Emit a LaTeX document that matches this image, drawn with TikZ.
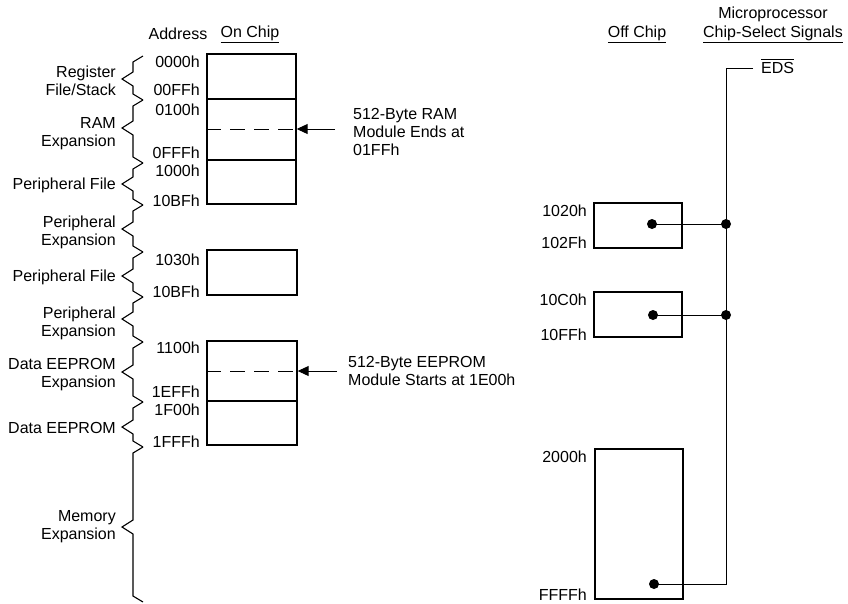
\documentclass[tikz,border=0pt]{standalone}
\usepackage{fontspec}
\setmainfont{Liberation Sans}
\usetikzlibrary{arrows.meta}
\begin{document}
\begin{tikzpicture}[x=1pt,y=-1pt,
  lbl/.style={font=\fontsize{16}{18}\selectfont, inner sep=0pt},
  addr/.style={lbl, anchor=east},
  brlbl/.style={lbl, anchor=east, align=right},
  note/.style={lbl, anchor=west, align=left},
  membox/.style={draw, line width=1.4pt},
  dashline/.style={line width=1pt, dash pattern=on 15pt off 9pt},
  brace/.style={line width=1.1pt, line join=miter},
  dot/.style={circle, fill, inner sep=0pt, minimum size=10pt},
  wire/.style={line width=1pt},
  pointer/.style={wire, -{Triangle[length=11pt,width=10pt]}}]
\useasboundingbox (0,0) rectangle (848,603);

% headers
\node[lbl] (hAddr) at (178,34) {Address};
\node[lbl] (hOn) at (250,34) {\underline{On Chip}};
\node[lbl] (hOff) at (637,34) {\underline{Off Chip}};
\node[lbl] (hMicro) at (773,14) {Microprocessor};
\node[lbl] (hCS) at (773,34) {\underline{Chip-Select Signals}};

% on-chip memory boxes
\node[membox, minimum width=89pt, minimum height=150pt, inner sep=0pt] (boxA) at (251.5,129) {};
\draw[line width=1.4pt] (boxA.west |- 0,99) -- (boxA.east |- 0,99);
\draw[line width=1.4pt] (boxA.west |- 0,160) -- (boxA.east |- 0,160);
\draw[dashline] (boxA.west |- 0,129) -- (boxA.east |- 0,129);
\node[membox, minimum width=90pt, minimum height=45pt, inner sep=0pt] (boxB) at (252,272.5) {};
\node[membox, minimum width=90pt, minimum height=104pt, inner sep=0pt] (boxC) at (252,393) {};
\draw[line width=1.4pt] (boxC.west |- 0,401) -- (boxC.east |- 0,401);
\draw[dashline] (boxC.west |- 0,371) -- (boxC.east |- 0,371);

% addresses (on chip)
\node[addr] (a0000) at (200,62) {0000h};
\node[addr] (a00FF) at (200,90) {00FFh};
\node[addr] (a0100) at (200,110) {0100h};
\node[addr] (a0FFF) at (200,153) {0FFFh};
\node[addr] (a1000) at (200,171) {1000h};
\node[addr] (a10BFa) at (200,201) {10BFh};
\node[addr] (a1030) at (200,260) {1030h};
\node[addr] (a10BFb) at (200,292) {10BFh};
\node[addr] (a1100) at (200,348) {1100h};
\node[addr] (a1EFF) at (200,392) {1EFFh};
\node[addr] (a1F00) at (200,410) {1F00h};
\node[addr] (a1FFF) at (200,442) {1FFFh};

% braces
\newcommand{\zbrace}[3]{%
  \draw[brace] (143,#1) -- (133,#1+6) -- (133,#3-7) -- (122,#3) -- (133,#3+7) -- (133,#2-6) -- (143,#2);}
\zbrace{56}{100}{79}
\zbrace{100}{163}{128}
\zbrace{163}{205}{184}
\zbrace{205}{252}{229}
\zbrace{252}{297}{276}
\zbrace{297}{342}{319}
\zbrace{342}{402}{372}
\zbrace{402}{447}{427}
\zbrace{447}{602}{527}

% brace labels
\node[brlbl] (bReg) at (116,81) {Register\\File/Stack};
\node[brlbl] (bRam) at (116,134) {RAM\\Expansion};
\node[brlbl] (bPF1) at (116,185) {Peripheral File};
\node[brlbl] (bPE1) at (116,232) {Peripheral\\Expansion};
\node[brlbl] (bPF2) at (116,277) {Peripheral File};
\node[brlbl] (bPE2) at (116,323) {Peripheral\\Expansion};
\node[brlbl] (bDEE) at (116,375) {Data EEPROM\\Expansion};
\node[brlbl] (bDE) at (116,428) {Data EEPROM};
\node[brlbl] (bMem) at (116,527) {Memory\\Expansion};

% pointer notes
\coordinate (ramTip) at (boxA.east |- 0,129);
\coordinate (ramTail) at (335,129);
\draw[pointer] (ramTail) -- (ramTip);
\node[note] (ramNote) at (353,132) {512-Byte RAM\\Module Ends at\\01FFh};
\coordinate (eeTip) at (boxC.east |- 0,371);
\coordinate (eeTail) at (337,371);
\draw[pointer] (eeTail) -- (eeTip);
\node[note] (eeNote) at (348,371) {512-Byte EEPROM\\Module Starts at 1E00h};

% off-chip boxes
\node[membox, minimum width=88pt, minimum height=45pt, inner sep=0pt] (ob1) at (638,225.5) {};
\node[membox, minimum width=88pt, minimum height=45pt, inner sep=0pt] (ob2) at (638,314.5) {};
\node[membox, minimum width=88pt, minimum height=150pt, inner sep=0pt] (ob3) at (639,524) {};
\node[addr] (o1020) at (587,211) {1020h};
\node[addr] (o102F) at (587,243) {102Fh};
\node[addr] (o10C0) at (587,300) {10C0h};
\node[addr] (o10FF) at (587,335) {10FFh};
\node[addr] (o2000) at (587,457) {2000h};
\node[addr] (oFFFF) at (587,595) {FFFFh};

% chip select
\node[lbl, anchor=west] (eds) at (761,68) {EDS};
\draw[line width=1pt] ([yshift=2.5pt]eds.north west) -- ([yshift=2.5pt]eds.north east);
\coordinate (edsCorner) at (726,68);
\coordinate (edsEnd) at (753,68);
\node[dot] (d1) at (652,224) {};
\node[dot] (d2) at (653,315) {};
\node[dot] (d3) at (654,584) {};
\node[dot] (j1) at (726,224) {};
\node[dot] (j2) at (726,315) {};
\coordinate (botCorner) at (726,584);
\draw[wire] (edsEnd) -- (edsCorner) -- (j1.center) -- (j2.center) -- (botCorner) -- (d3.center);
\draw[wire] (d1.center) -- (j1.center);
\draw[wire] (d2.center) -- (j2.center);
\end{tikzpicture}
\end{document}
